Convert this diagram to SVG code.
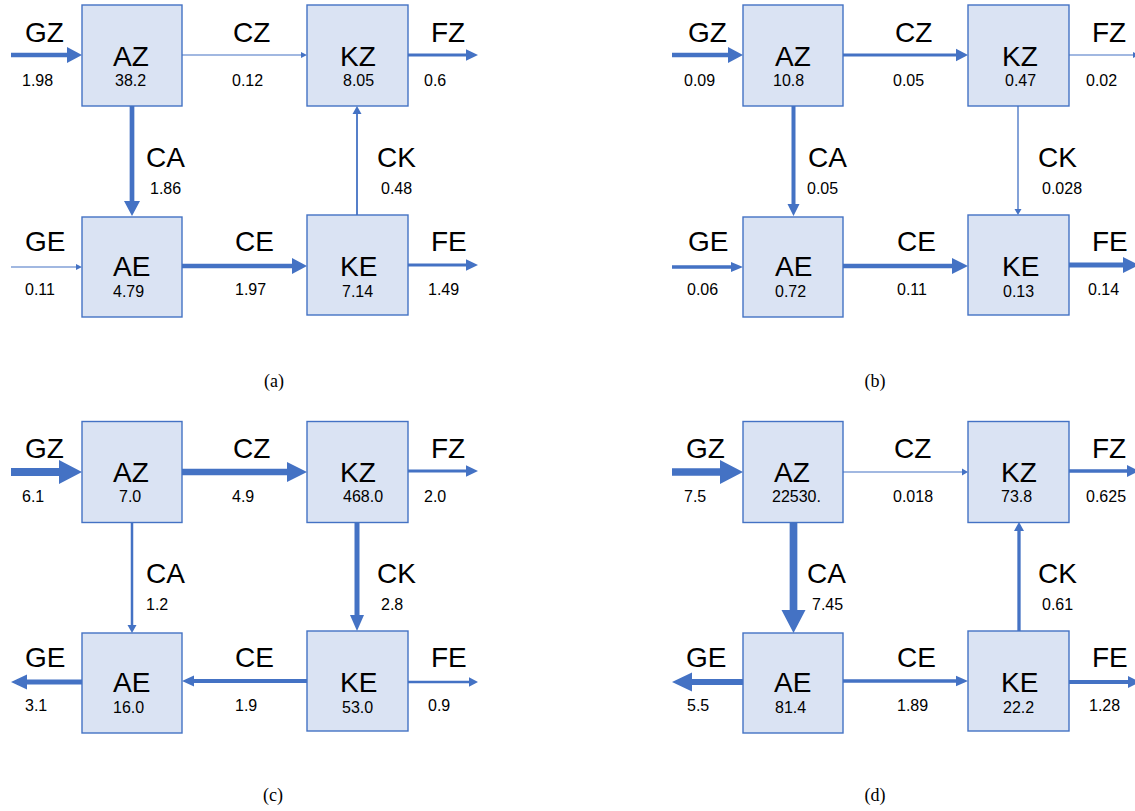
<svg xmlns="http://www.w3.org/2000/svg" width="1135" height="811" viewBox="0 0 1135 811">
<style>
.box{fill:#DAE3F3;stroke:#4472C4;stroke-width:1.4}
.arr{fill:#4472C4;stroke:none}
.lb{font-family:"Liberation Sans",Arial,sans-serif;font-size:28px;fill:#000}
.nm{font-family:"Liberation Sans",Arial,sans-serif;font-size:16px;fill:#000}
.cap{font-family:"Liberation Serif","Times New Roman",serif;font-size:18px;fill:#000;text-anchor:middle}
</style>
<rect width="1135" height="811" fill="#fff"/>

<!-- Panel (a) -->
<g id="panel-a">
  <g id="a-connectors">
    <path class="arr" d="M11,52.75 H67 V47 L82,55 L67,63 V57.25 H11Z"/>
    <path class="arr" d="M182,54.4 H301 V52 L307,55 L301,58 V55.6 H182Z"/>
    <path class="arr" d="M408,53.5 H466 V49.3 L478,55 L466,60.7 V56.5 H408Z"/>
    <path class="arr" d="M129.65,106 V201 H124 L132,216 L140,201 H134.35 V106Z"/>
    <path class="arr" d="M356.1,215 V114 H352.5 L357,106 L361.5,114 H357.9 V215Z"/>
    <path class="arr" d="M11,266.4 H76 V264 L82,267 L76,270 V267.6 H11Z"/>
    <path class="arr" d="M182,263.75 H292 V258 L307,266 L292,274 V268.25 H182Z"/>
    <path class="arr" d="M408,263.5 H466 V259.3 L478,265 L466,270.7 V266.5 H408Z"/>
  </g>
  <g id="a-AZ"><rect class="box" x="82" y="5" width="100" height="101"/><text class="lb" x="113" y="66">AZ</text><text class="nm" x="115" y="86">38.2</text></g>
  <g id="a-KZ"><rect class="box" x="307" y="5" width="101" height="101"/><text class="lb" x="340" y="66">KZ</text><text class="nm" x="343" y="86">8.05</text></g>
  <g id="a-AE"><rect class="box" x="82" y="217" width="100" height="100"/><text class="lb" x="113" y="276">AE</text><text class="nm" x="113" y="296.5">4.79</text></g>
  <g id="a-KE"><rect class="box" x="307" y="215" width="101" height="100"/><text class="lb" x="340" y="276">KE</text><text class="nm" x="342" y="296.5">7.14</text></g>
  <g id="a-labels">
    <text class="lb" x="25" y="42">GZ</text><text class="nm" x="22" y="86">1.98</text>
    <text class="lb" x="233" y="42">CZ</text><text class="nm" x="232" y="86">0.12</text>
    <text class="lb" x="431" y="42">FZ</text><text class="nm" x="424" y="86">0.6</text>
    <text class="lb" x="146" y="167">CA</text><text class="nm" x="150" y="194">1.86</text>
    <text class="lb" x="377" y="167">CK</text><text class="nm" x="381" y="194">0.48</text>
    <text class="lb" x="25" y="251">GE</text><text class="nm" x="25" y="295">0.11</text>
    <text class="lb" x="235" y="251">CE</text><text class="nm" x="235" y="295">1.97</text>
    <text class="lb" x="431" y="251">FE</text><text class="nm" x="428" y="295">1.49</text>
  </g>
  <text class="cap" x="274" y="387">(a)</text>
</g>

<!-- Panel (b) -->
<g id="panel-b" transform="translate(661,0)">
  <g id="b-connectors">
    <path class="arr" d="M11,52.85 H67 V47 L82,55 L67,63 V57.15 H11Z"/>
    <path class="arr" d="M182,53.5 H295 V48.7 L307,55 L295,61.3 V56.5 H182Z"/>
    <path class="arr" d="M408,54.4 H472 V52 L478,55 L472,58 V55.6 H408Z"/>
    <path class="arr" d="M130.5,106 V204 H126.5 L132.5,216 L138.5,204 H134.5 V106Z"/>
    <path class="arr" d="M356.35,106 V209 H353.5 L357,215 L360.5,209 H357.65 V106Z"/>
    <path class="arr" d="M11,265.25 H70 V262 L82,267 L70,272 V268.75 H11Z"/>
    <path class="arr" d="M182,263.75 H291 V258 L307,266 L291,274 V268.25 H182Z"/>
    <path class="arr" d="M408,262.5 H462 V257 L478,265 L462,273 V267.5 H408Z"/>
  </g>
  <g id="b-AZ"><rect class="box" x="82" y="5" width="100" height="101"/><text class="lb" x="114" y="66">AZ</text><text class="nm" x="112" y="86">10.8</text></g>
  <g id="b-KZ"><rect class="box" x="307" y="5" width="101" height="101"/><text class="lb" x="341" y="66">KZ</text><text class="nm" x="344" y="86">0.47</text></g>
  <g id="b-AE"><rect class="box" x="82" y="217" width="100" height="100"/><text class="lb" x="114" y="276">AE</text><text class="nm" x="114" y="296.5">0.72</text></g>
  <g id="b-KE"><rect class="box" x="307" y="215" width="101" height="100"/><text class="lb" x="341" y="276">KE</text><text class="nm" x="342" y="296.5">0.13</text></g>
  <g id="b-labels">
    <text class="lb" x="27" y="42">GZ</text><text class="nm" x="23" y="86">0.09</text>
    <text class="lb" x="234" y="42">CZ</text><text class="nm" x="232" y="86">0.05</text>
    <text class="lb" x="431" y="42">FZ</text><text class="nm" x="425" y="86">0.02</text>
    <text class="lb" x="147" y="167">CA</text><text class="nm" x="146" y="194">0.05</text>
    <text class="lb" x="377" y="167">CK</text><text class="nm" x="381" y="194">0.028</text>
    <text class="lb" x="27" y="251">GE</text><text class="nm" x="26" y="295">0.06</text>
    <text class="lb" x="236" y="251">CE</text><text class="nm" x="236" y="295">0.11</text>
    <text class="lb" x="431" y="251">FE</text><text class="nm" x="427" y="295">0.14</text>
  </g>
  <text class="cap" x="214" y="387">(b)</text>
</g>

<!-- Panel (c) -->
<g id="panel-c" transform="translate(0,416)">
  <g id="c-connectors">
    <path class="arr" d="M11,52 H59 V44 L82,56 L59,68 V60 H11Z"/>
    <path class="arr" d="M182,52.85 H287 V46 L307,56 L287,66 V59.15 H182Z"/>
    <path class="arr" d="M408,53.5 H466 V49.3 L478,55 L466,60.7 V56.5 H408Z"/>
    <path class="arr" d="M130.75,106 V209 H127.5 L132,217 L136.5,209 H133.25 V106Z"/>
    <path class="arr" d="M354.5,106 V199 H350 L357,215 L364,199 H359.5 V106Z"/>
    <path class="arr" d="M82,263.5 H27 V258.5 L11,266 L27,273.5 V268.5 H82Z"/>
    <path class="arr" d="M307,263 H194 V259.5 L182,265 L194,270.5 V267 H307Z"/>
    <path class="arr" d="M408,264.75 H469 V261.3 L478,266 L469,270.7 V267.25 H408Z"/>
  </g>
  <g id="c-AZ"><rect class="box" x="82" y="5.5" width="100" height="101"/><text class="lb" x="113" y="66">AZ</text><text class="nm" x="119" y="86">7.0</text></g>
  <g id="c-KZ"><rect class="box" x="307" y="5.5" width="101" height="101"/><text class="lb" x="340" y="66">KZ</text><text class="nm" x="343" y="86">468.0</text></g>
  <g id="c-AE"><rect class="box" x="82" y="217" width="100" height="100"/><text class="lb" x="113" y="276">AE</text><text class="nm" x="113" y="296.5">16.0</text></g>
  <g id="c-KE"><rect class="box" x="307" y="215" width="101" height="100"/><text class="lb" x="340" y="276">KE</text><text class="nm" x="342" y="296.5">53.0</text></g>
  <g id="c-labels">
    <text class="lb" x="25" y="42">GZ</text><text class="nm" x="22" y="86">6.1</text>
    <text class="lb" x="233" y="42">CZ</text><text class="nm" x="232" y="86">4.9</text>
    <text class="lb" x="431" y="42">FZ</text><text class="nm" x="424" y="86">2.0</text>
    <text class="lb" x="146" y="167">CA</text><text class="nm" x="146" y="194">1.2</text>
    <text class="lb" x="377" y="167">CK</text><text class="nm" x="381" y="194">2.8</text>
    <text class="lb" x="25" y="251">GE</text><text class="nm" x="25" y="295">3.1</text>
    <text class="lb" x="235" y="251">CE</text><text class="nm" x="235" y="295">1.9</text>
    <text class="lb" x="431" y="251">FE</text><text class="nm" x="428" y="295">0.9</text>
  </g>
  <text class="cap" x="273" y="385">(c)</text>
</g>

<!-- Panel (d) -->
<g id="panel-d" transform="translate(661,416)">
  <g id="d-connectors">
    <path class="arr" d="M11,52.25 H59 V44 L82,56 L59,68 V59.75 H11Z"/>
    <path class="arr" d="M182,55.4 H301 V52.5 L307,56 L301,59.5 V56.6 H182Z"/>
    <path class="arr" d="M408,53.25 H466 V49 L478,55 L466,61 V56.75 H408Z"/>
    <path class="arr" d="M128.65,106 V194 H120.5 L132.5,217 L144.5,194 H136.35 V106Z"/>
    <path class="arr" d="M356.35,215 V115 H353 L358,106 L363,115 H359.65 V215Z"/>
    <path class="arr" d="M82,263 H31 V256.5 L11,266 L31,275.5 V269 H82Z"/>
    <path class="arr" d="M182,263.25 H295 V259.7 L307,265 L295,270.3 V266.75 H182Z"/>
    <path class="arr" d="M408,264 H467 V260 L479,266 L467,272 V268 H408Z"/>
  </g>
  <g id="d-AZ"><rect class="box" x="82" y="5.5" width="100" height="101"/><text class="lb" x="113" y="66">AZ</text><text class="nm" x="111" y="86">22530.</text></g>
  <g id="d-KZ"><rect class="box" x="307" y="5.5" width="101" height="101"/><text class="lb" x="340" y="66">KZ</text><text class="nm" x="340" y="86">73.8</text></g>
  <g id="d-AE"><rect class="box" x="82" y="217" width="100" height="100"/><text class="lb" x="113" y="276">AE</text><text class="nm" x="114" y="296.5">81.4</text></g>
  <g id="d-KE"><rect class="box" x="307" y="215" width="101" height="100"/><text class="lb" x="340" y="276">KE</text><text class="nm" x="342" y="296.5">22.2</text></g>
  <g id="d-labels">
    <text class="lb" x="25" y="42">GZ</text><text class="nm" x="23" y="86">7.5</text>
    <text class="lb" x="233" y="42">CZ</text><text class="nm" x="232" y="86">0.018</text>
    <text class="lb" x="431" y="42">FZ</text><text class="nm" x="425" y="86">0.625</text>
    <text class="lb" x="146" y="167">CA</text><text class="nm" x="151" y="194">7.45</text>
    <text class="lb" x="377" y="167">CK</text><text class="nm" x="381" y="194">0.61</text>
    <text class="lb" x="25" y="251">GE</text><text class="nm" x="26" y="295">5.5</text>
    <text class="lb" x="236" y="251">CE</text><text class="nm" x="236" y="295">1.89</text>
    <text class="lb" x="431" y="251">FE</text><text class="nm" x="428" y="295">1.28</text>
  </g>
  <text class="cap" x="214" y="385">(d)</text>
</g>
</svg>
